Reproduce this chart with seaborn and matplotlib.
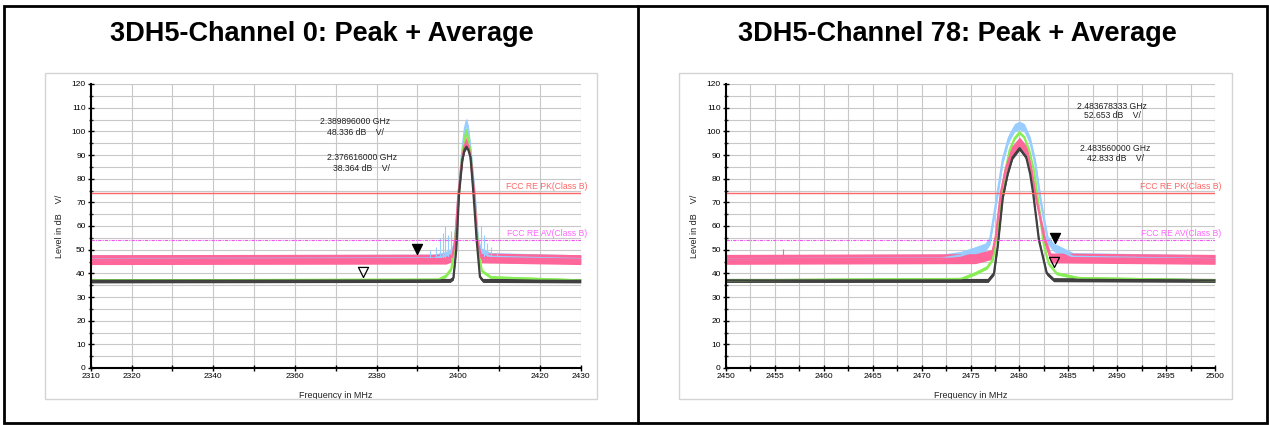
import matplotlib
matplotlib.use('Agg')
import matplotlib.pyplot as plt
import seaborn as sns
from matplotlib.patches import Rectangle
from matplotlib.lines import Line2D
from matplotlib.ticker import MultipleLocator, FuncFormatter

sns.set_style('white')
plt.rcParams['font.family'] = ['Liberation Sans', 'DejaVu Sans']
plt.rcParams['text.color'] = 'black'

W, H = 1269, 425

titles = ['3DH5-Channel 0: Peak + Average', '3DH5-Channel 78: Peak + Average']

# ---- channel 0 (2310-2430 MHz) ----
ch0_blue_f = [2310, 2394, 2397, 2398.5, 2399.2, 2400, 2401, 2401.6, 2402, 2402.4, 2403, 2404, 2404.8, 2405.6, 2408, 2430]
ch0_blue_v = [46.0, 46.3, 47.5, 49, 54, 72, 92, 101, 104, 101, 92, 74, 54, 49, 47, 46.0]
ch0_green_f = [2310, 2395, 2397, 2398.3, 2399, 2400, 2401, 2402, 2403, 2404, 2405, 2405.8, 2408, 2430]
ch0_green_v = [37.0, 37.3, 39, 42, 50, 70, 91, 100.5, 91, 70, 48, 41, 38.3, 37.0]
ch0_pink_f = [2310, 2397, 2398.5, 2399.3, 2400, 2401, 2401.5, 2402, 2402.5, 2403, 2403.9, 2404.6, 2405.7, 2430]
ch0_pink_v = [45.8, 46, 47, 54, 73, 89, 93.5, 95.8, 93.5, 89, 74, 54, 46.5, 45.8]
ch0_gray_f = [2310, 2398, 2398.8, 2399.5, 2400.2, 2401, 2401.5, 2402, 2402.5, 2403, 2403.7, 2404.5, 2405.3, 2406, 2430]
ch0_gray_v = [36.8, 37, 38, 50, 74, 88, 92, 93.5, 92, 89, 74, 54, 38.5, 37, 36.8]
ch0_spike_f = [2393.1, 2394.5, 2395.5, 2396.2, 2396.8, 2397.5, 2398.2, 2405.6, 2406.2, 2407, 2408, 2409.5]
ch0_spike_v = [50, 51, 55, 57, 60, 56, 58, 60, 56, 53, 51, 49]
ch0_marks = [(2389.896, 48.336, True), (2376.616, 38.364, False)]
ch0_text = [('2.389896000 GHz', '48.336 dB    V/', 2374.7, 104.2, 99.6),
            ('2.376616000 GHz', '38.364 dB    V/', 2376.4, 89.0, 84.3)]
ch0_xlabels = [2310, 2320, 2340, 2360, 2380, 2400, 2420, 2430]

# ---- channel 78 (2450-2500 MHz) ----
ch78_blue_f = [2450, 2472, 2474, 2475.5, 2476.5, 2477, 2477.7, 2478.3, 2478.9, 2479.5, 2480, 2480.5, 2481.1,
               2481.6, 2482.2, 2482.9, 2483.5, 2484.5, 2485.5, 2500]
ch78_blue_v = [46.0, 46.3, 47.5, 49.5, 51, 54, 72, 88, 97, 101.5, 102.5, 101.5, 96, 87, 70, 54, 51, 49, 47, 46.0]
ch78_green_f = [2450, 2474, 2475.5, 2476.7, 2477.3, 2477.9, 2478.5, 2479, 2479.5, 2480, 2480.5, 2481, 2481.5,
                2482, 2482.5, 2483, 2483.8, 2486, 2500]
ch78_green_v = [37.0, 37.6, 40, 42.5, 46, 62, 82, 92, 97, 99.5, 97.5, 92, 83, 68, 52, 44, 40, 38, 37.0]
ch78_pink_f = [2450, 2475.5, 2477.2, 2477.6, 2478.1, 2478.6, 2479.2, 2480, 2480.8, 2481.2, 2481.6, 2482.6, 2483.2, 2500]
ch78_pink_v = [45.9, 46.2, 48, 56, 74, 84, 91.5, 95.5, 91.5, 84, 74, 54, 46.5, 45.9]
ch78_gray_f = [2450, 2476.8, 2477.4, 2477.8, 2478.3, 2478.8, 2479.3, 2480, 2480.7, 2481.1, 2481.4, 2482, 2482.8,
               2483.5, 2500]
ch78_gray_v = [37, 37, 40, 52, 72, 82, 89, 92.8, 89, 82, 74, 54, 40, 37.3, 37]
ch78_spike_f = [2455.8]
ch78_spike_v = [50.4]
ch78_marks = [(2483.678, 52.653, True), (2483.56, 42.833, False)]
ch78_text = [('2.483678333 GHz', '52.653 dB    V/', 2489.5, 110.7, 106.5),
             ('2.483560000 GHz', '42.833 dB    V/', 2489.8, 92.8, 88.4)]
ch78_xlabels = [2450, 2455, 2460, 2465, 2470, 2475, 2480, 2485, 2490, 2495, 2500]

# limits
pk_limit = 74
av_limit = 54

c_blue, c_green, c_pink, c_gray = '#99ccff', '#88ee55', '#ff6699', '#404040'
noise = {'blue': 1.8, 'green': 0.7, 'pink': 2.1, 'gray': 0.85}

fig = plt.figure(figsize=(W / 100, H / 100), dpi=100)


def px(x, y):
    return x / W, 1 - y / H


def trace(ax, f, v, color, n):
    lo = [a - n for a in v]
    hi = [a + n for a in v]
    ax.fill_between(f, lo, hi, color=color, lw=0)
    sns.lineplot(x=f, y=v, ax=ax, color=color, lw=1.6, estimator=None, sort=False)


def panel(ax, data, xlim, xmaj, xlabels, spikes, marks, texts, spike_color):
    bf, bv, gf, gv, pf, pv, kf, kv = data
    trace(ax, bf, bv, c_blue, noise['blue'])
    ax.vlines(spikes[0], 46, spikes[1], color=spike_color, lw=0.8)
    trace(ax, gf, gv, c_green, noise['green'])
    trace(ax, pf, pv, c_pink, noise['pink'])
    trace(ax, kf, kv, c_gray, noise['gray'])

    ax.axhline(pk_limit, color='#ff6666', lw=1)
    ax.axhline(av_limit, color='#ee55ee', lw=0.8, ls=(0, (3, 1, 1, 1)))
    ax.text(1.013, pk_limit + 2.5, 'FCC RE PK(Class B)', transform=ax.get_yaxis_transform(),
            ha='right', va='center', fontsize=6.2, color='#ff6666', clip_on=False)
    ax.text(1.013, av_limit + 2.8, 'FCC RE AV(Class B)', transform=ax.get_yaxis_transform(),
            ha='right', va='center', fontsize=6.2, color='#ff66ff', clip_on=False)

    tri = [(0, 0), (-1, 2), (1, 2), (0, 0)]
    for f, v, filled in marks:
        ax.plot([f], [v], marker=tri, ms=14.5, mfc='black' if filled else 'none',
                mec='black', mew=0.9, ls='none', zorder=6)
    for l1, l2, x, y1, y2 in texts:
        ax.text(x, y1, l1, ha='center', va='center', fontsize=6.2, color='#222222')
        ax.text(x, y2, l2, ha='center', va='center', fontsize=6.2, color='#222222')

    ax.set_xlim(*xlim)
    ax.set_ylim(0, 120)
    ax.xaxis.set_major_locator(MultipleLocator(xmaj))
    ax.xaxis.set_major_formatter(FuncFormatter(
        lambda v, p: f'{v:.0f}' if any(abs(v - t) < 1e-6 for t in xlabels) else ''))
    ax.yaxis.set_major_locator(MultipleLocator(10))
    ax.yaxis.set_minor_locator(MultipleLocator(5))
    ax.grid(True, which='both', axis='y', color='#c8c8c8', lw=0.8)
    ax.grid(True, which='major', axis='x', color='#c8c8c8', lw=0.8)
    ax.set_axisbelow(True)
    for s in ['top', 'right']:
        ax.spines[s].set_visible(False)
    for s in ['left', 'bottom']:
        ax.spines[s].set_color('black')
        ax.spines[s].set_linewidth(1.5)
    ax.tick_params(axis='both', which='major', direction='inout', length=4.5, width=1,
                   labelsize=6, colors='black', pad=1.5, left=True, bottom=True)
    ax.tick_params(axis='y', which='minor', direction='inout', length=3, width=1, left=True)
    ax.set_xlabel('Frequency in MHz', fontsize=6.5, color='#222222')
    ax.set_ylabel('Level in dB    V/', fontsize=6.5, color='#222222')
    ax.xaxis.set_label_coords(0.5, -0.08)
    ax.xaxis.label.set_va('top')
    ax.yaxis.set_label_coords(-0.0545, 0.5)


ax0 = fig.add_axes([90.8 / W, 1 - 368 / H, 490 / W, 284 / H])
ax1 = fig.add_axes([726 / W, 1 - 368 / H, 489 / W, 284 / H])

panel(ax0, (ch0_blue_f, ch0_blue_v, ch0_green_f, ch0_green_v, ch0_pink_f, ch0_pink_v, ch0_gray_f, ch0_gray_v),
      (2310, 2430), 10, ch0_xlabels, (ch0_spike_f, ch0_spike_v), ch0_marks, ch0_text, c_blue)
panel(ax1, (ch78_blue_f, ch78_blue_v, ch78_green_f, ch78_green_v, ch78_pink_f, ch78_pink_v, ch78_gray_f, ch78_gray_v),
      (2450, 2500), 2.5, ch78_xlabels, (ch78_spike_f, ch78_spike_v), ch78_marks, ch78_text, c_pink)

# chart boxes
for x0, x1 in [(45, 597), (679, 1232)]:
    fig.add_artist(Rectangle(px(x0, 399), (x1 - x0) / W, 326 / H, transform=fig.transFigure,
                             fill=False, ec='#d4d4d4', lw=1))

# outer frame + divider
fig.add_artist(Rectangle(px(4, 423), 1263 / W, 417 / H, transform=fig.transFigure,
                         fill=False, ec='black', lw=2))
fig.add_artist(Line2D([638 / W, 638 / W], [1 - 423 / H, 1 - 6 / H], transform=fig.transFigure,
                      color='black', lw=2))

fig.text(322 / W, 1 - 41 / H, titles[0], ha='center', va='baseline', fontsize=19.5,
         weight='bold', color='black')
fig.text(957 / W, 1 - 41 / H, titles[1], ha='center', va='baseline', fontsize=19.5,
         weight='bold', color='black')

fig.savefig('out.png', dpi=100)
